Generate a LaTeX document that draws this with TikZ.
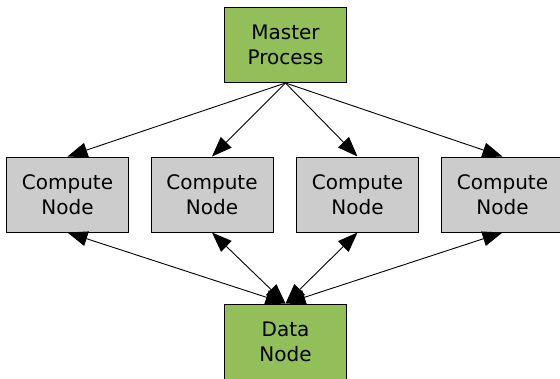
\documentclass[tikz,border=0pt]{standalone}
\usepackage{fontspec}
\setmainfont{DejaVu Sans}
\usetikzlibrary{arrows.meta}
\definecolor{boxgreen}{RGB}{146,191,89}
\definecolor{boxgray}{RGB}{204,204,204}
\begin{document}
\begin{tikzpicture}[x=1pt,y=-1pt,
  box/.style={draw=black, line width=1pt, minimum width=122pt, minimum height=75pt,
    inner sep=0pt, align=center, font=\fontsize{20}{25}\selectfont},
  greenbox/.style={box, fill=boxgreen},
  graybox/.style={box, fill=boxgray},
  conn/.style={line width=0.9pt, -{Triangle[length=20pt,width=15pt]}},
  biconn/.style={line width=0.9pt, {Triangle[length=20pt,width=15pt]}-{Triangle[length=20pt,width=15pt]}}]
\useasboundingbox (0,0) rectangle (560,378);
\node[greenbox] (mp) at (285.5,45) {Master\\Process};
\node[graybox] (c1) at (67.5,194.5) {Compute\\Node};
\node[graybox] (c2) at (212,194.5) {Compute\\Node};
\node[graybox] (c3) at (357.5,194.5) {Compute\\Node};
\node[graybox] (c4) at (502.5,194.5) {Compute\\Node};
\node[greenbox] (dn) at (285.5,341.5) {Data\\Node};
\foreach \c in {c1,c2,c3,c4}{
  \draw[conn] (mp.south) -- (\c.north);
  \draw[biconn] (\c.south) -- (dn.north);
}
\end{tikzpicture}
\end{document}
